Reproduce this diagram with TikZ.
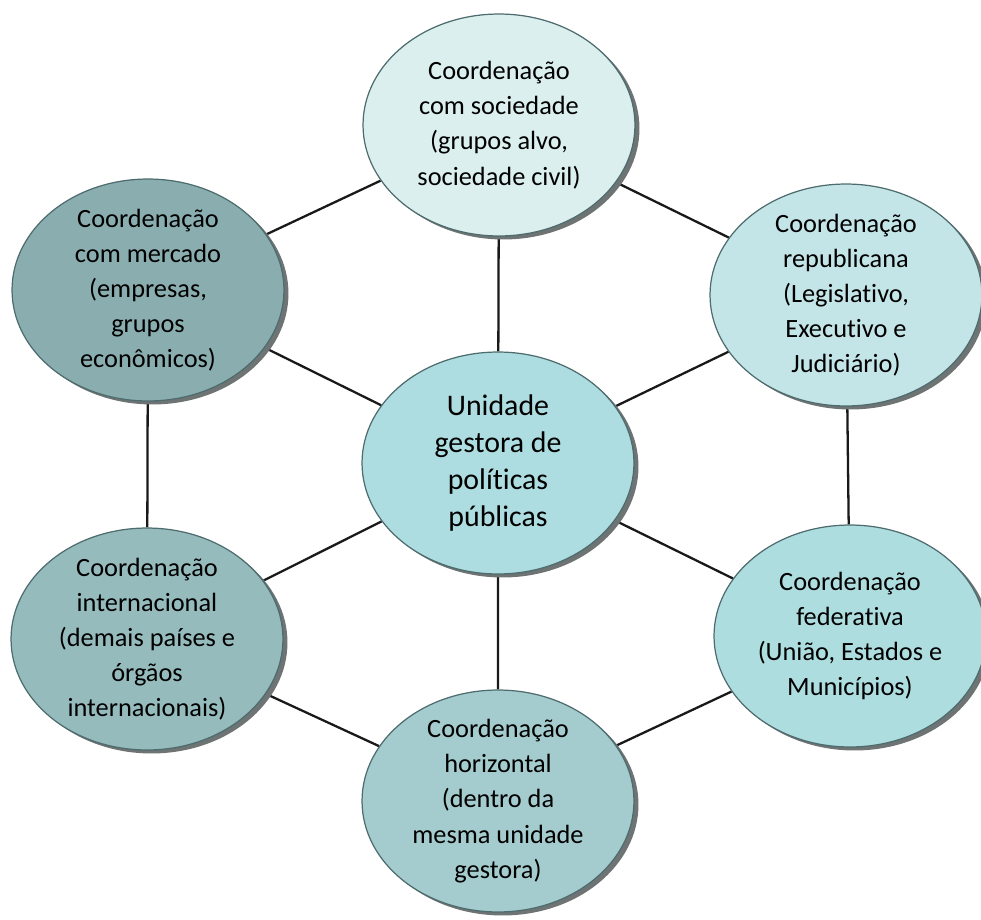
\documentclass[tikz,border=0pt]{standalone}
\usepackage{fontspec}
\setmainfont{Carlito}[Ligatures=NoCommon]
\usetikzlibrary{shapes,shadows,backgrounds}

\definecolor{edgeC}{HTML}{4E6C6E}
\definecolor{shadowC}{HTML}{6E7374}
\definecolor{socC}{HTML}{DBEFEF}
\definecolor{repC}{HTML}{C4E5E8}
\definecolor{fedC}{HTML}{AEDDE0}
\definecolor{uniC}{HTML}{ADDDE0}
\definecolor{horC}{HTML}{A4CBCD}
\definecolor{intC}{HTML}{95BBBD}
\definecolor{merC}{HTML}{8AAEB0}

\begin{document}
\begin{tikzpicture}[x=0.02cm,y=-0.02cm,
  coord/.style={ellipse,draw=edgeC,line width=0.7pt,fill=#1,
    minimum width=5.44cm,minimum height=4.44cm,inner sep=0pt,
    drop shadow={shadow xshift=0.09cm,shadow yshift=-0.07cm,fill=shadowC,opacity=1}},
  txt/.style={align=center,font=\fontsize{15}{20}\selectfont},
  link/.style={line width=1.3pt,black!90}]
\useasboundingbox (0,0) rectangle (981,920);

\node[coord=socC] (soc) at (499,125) {};
\node[txt] (soc-t) at (soc) {Coordenação\\com sociedade\\(grupos alvo,\\sociedade civil)};

\node[coord=merC] (mer) at (148,290) {};
\node[txt] (mer-t) at (mer) {Coordenação\\com mercado\\(empresas,\\grupos\\econômicos)};

\node[coord=repC] (rep) at (846,295) {};
\node[txt] (rep-t) at (rep) {Coordenação\\republicana\\(Legislativo,\\Executivo e\\Judiciário)};

\node[coord=uniC] (uni) at (498,463) {};
\node[txt,font=\fontsize{17}{21}\selectfont] (uni-t) at (uni) {Unidade\\gestora de\\políticas\\públicas};

\node[coord=intC] (int) at (147,639) {};
\node[txt] (int-t) at (int) {Coordenação\\internacional\\(demais países e\\órgãos\\internacionais)};

\node[coord=fedC] (fed) at (850,636) {};
\node[txt] (fed-t) at (fed) {Coordenação\\federativa\\(União, Estados e\\Municípios)};

\node[coord=horC] (hor) at (498,801) {};
\node[txt] (hor-t) at (hor) {Coordenação\\horizontal\\(dentro da\\mesma unidade\\gestora)};

\begin{scope}[on background layer]
\draw[link] (soc)--(mer) (soc)--(rep) (soc)--(uni);
\draw[link] (mer)--(uni) (rep)--(uni) (mer)--(int) (rep)--(fed);
\draw[link] (int)--(uni) (fed)--(uni) (hor)--(uni);
\draw[link] (int)--(hor) (fed)--(hor);
\end{scope}
\end{tikzpicture}
\end{document}
